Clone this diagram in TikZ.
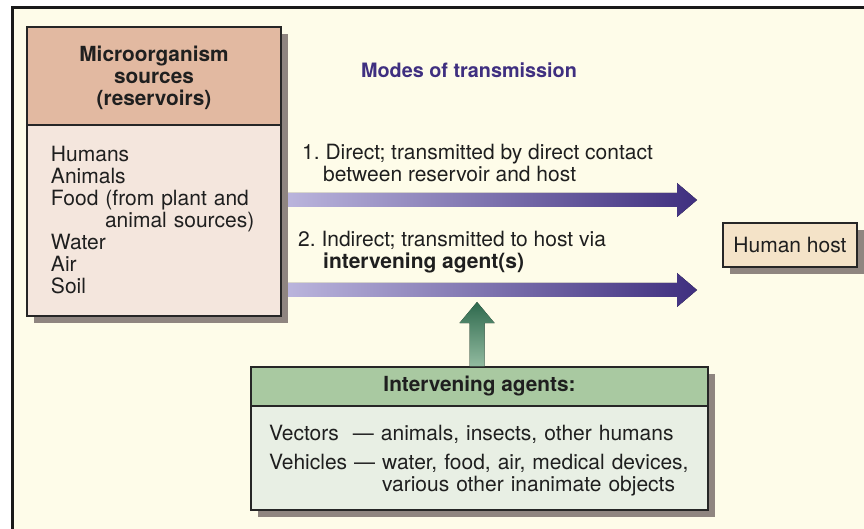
\documentclass[tikz,border=0pt]{standalone}
\usepackage{fontspec}
\setmainfont{TeX Gyre Heros}
\usetikzlibrary{positioning, shadows, calc}

\definecolor{cream}{HTML}{FEFCE9}
\definecolor{shadowc}{HTML}{8F8580}
\definecolor{reshead}{HTML}{E2B9A1}
\definecolor{resbody}{HTML}{F4E6DD}
\definecolor{hostc}{HTML}{F4E3C8}
\definecolor{agenthead}{HTML}{A9C9A1}
\definecolor{agentbody}{HTML}{E8EFE4}
\definecolor{modesc}{HTML}{3F2F80}
\definecolor{arrL}{HTML}{BAB4DC}
\definecolor{arrR}{HTML}{3F2F7F}
\definecolor{gtop}{HTML}{2E694D}
\definecolor{gbot}{HTML}{92BBA0}

\newcommand{\txtfont}{\fontsize{21bp}{22bp}\selectfont}
\newcommand{\hdfont}{\fontsize{20.8bp}{22bp}\selectfont\bfseries}

\begin{document}
\begin{tikzpicture}[x=1bp, y=-1bp,
      every node/.style={font=\txtfont, text=black!88},
      box/.style={draw=black!85, line width=1.3bp, outer sep=0pt,
        drop shadow={shadow xshift=7bp, shadow yshift=-7bp, fill=shadowc, opacity=1}},
      lbl/.style={inner sep=0pt, align=left, anchor=west}]
    \useasboundingbox (0,0) rectangle (864,529);
    \fill[white] (0,0) rectangle (864,529);
    \fill[cream] (12.5,7.5) rectangle (864,529);
    \draw[black!90, line width=2.5bp] (12.5,529) -- (12.5,7.5) -- (864,7.5);

    % reservoirs
    \node[box, fill=reshead, minimum width=254bp, minimum height=98bp, align=center, font=\hdfont] (reshead) at (154,76) {\rule{0pt}{20bp}Microorganism\\sources\\(reservoirs)};
    \node[box, fill=resbody, minimum width=254bp, minimum height=191bp, inner xsep=24bp, text width=206bp, align=left] (resbody) [below=0pt of reshead] {Humans\\Animals\\Food (from plant and\\\hspace*{54bp}animal sources)\\Water\\Air\\Soil};

    % host
    \node[box, fill=hostc, minimum width=134bp, minimum height=44bp] (host) at (790,245) {Human host};

    \node[font=\fontsize{19.8bp}{22bp}\selectfont\bfseries, text=modesc] (modes) at (469,70) {Modes of transmission};

    % direct
    \coordinate (d1e) at (697,200);
    \fill[left color=arrL, right color=arrR] ($(resbody.east |- d1e)+(7,-7)$) -- ($(d1e)+(-20,-7)$) -- ($(d1e)+(-20,-17)$) -- (d1e) -- ($(d1e)+(-20,17)$) -- ($(d1e)+(-20,7)$) -- ($(resbody.east |- d1e)+(7,7)$) -- cycle;
    \node[lbl] (t1) at (302,163.5) {1.~Direct; transmitted by direct contact\\\hspace*{21bp}between reservoir and host};

    % indirect
    \coordinate (d2e) at (697,290);
    \fill[left color=arrL, right color=arrR] ($(resbody.east |- d2e)+(7,-7)$) -- ($(d2e)+(-20,-7)$) -- ($(d2e)+(-20,-17)$) -- (d2e) -- ($(d2e)+(-20,17)$) -- ($(d2e)+(-20,7)$) -- ($(resbody.east |- d2e)+(7,7)$) -- cycle;
    \node[lbl] (t2) at (298,252) {2.~Indirect; transmitted to host via\\\hspace*{25bp}\textbf{intervening agent(s)}};

    % agents
    \node[box, fill=agenthead, minimum width=457bp, minimum height=39bp, font=\hdfont] (agenthead) at (479.5,386.5) {Intervening agents:};
    \node[box, fill=agentbody, minimum width=457bp, minimum height=104bp, inner xsep=18bp, text width=421bp, align=left] (agentbody) [below=0pt of agenthead] {\rule{0pt}{21bp}Vectors\ \ — animals, insects, other humans\\[7bp]Vehicles — water, food, air, medical devices,\\\hspace*{113bp}various other inanimate objects};

    \coordinate (gtip) at (477,302);
    \fill[top color=gtop, bottom color=gbot] ($(agenthead.north -| gtip)+(-7.5,-0.6)$) -- ($(gtip)+(-7.5,21)$) -- ($(gtip)+(-17.5,21)$) -- (gtip) -- ($(gtip)+(17.5,21)$) -- ($(gtip)+(7.5,21)$) -- ($(agenthead.north -| gtip)+(7.5,-0.6)$) -- cycle;
\end{tikzpicture}
\end{document}
